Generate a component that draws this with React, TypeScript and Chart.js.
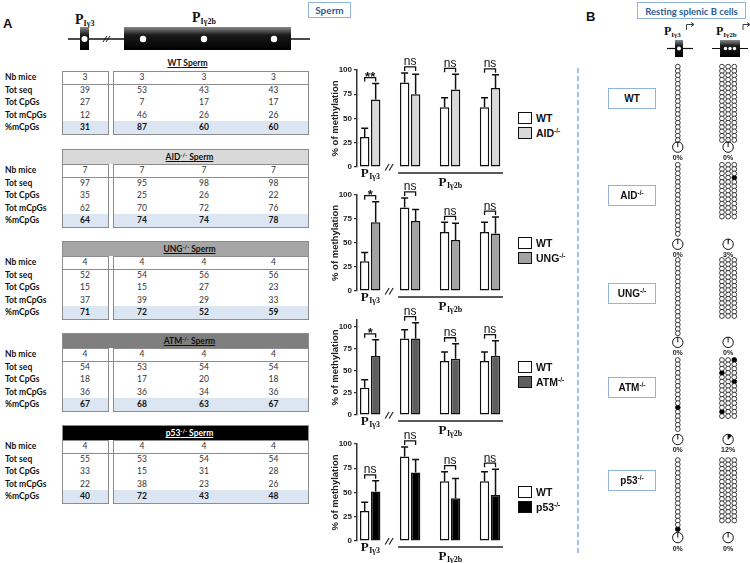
import React, { useEffect, useRef } from "react";
import { Chart, registerables } from "chart.js";

Chart.register(...registerables);

// ======================= DATA =======================
const rowLabels = ["Nb mice", "Tot seq", "Tot CpGs", "Tot mCpGs", "%mCpGs"];

const wtSperm = [
  [3, 3, 3, 3],
  [39, 53, 43, 43],
  [27, 7, 17, 17],
  [12, 46, 26, 26],
  [31, 87, 60, 60],
];
const aidSperm = [
  [7, 7, 7, 7],
  [97, 95, 98, 98],
  [35, 25, 26, 22],
  [62, 70, 72, 76],
  [64, 74, 74, 78],
];
const ungSperm = [
  [4, 4, 4, 4],
  [52, 54, 56, 56],
  [15, 15, 27, 23],
  [37, 39, 29, 33],
  [71, 72, 52, 59],
];
const atmSperm = [
  [4, 4, 4, 4],
  [54, 53, 54, 54],
  [18, 17, 20, 18],
  [36, 36, 34, 36],
  [67, 68, 63, 67],
];
const p53Sperm = [
  [4, 4, 4, 4],
  [55, 53, 54, 54],
  [33, 15, 31, 28],
  [22, 38, 23, 26],
  [40, 72, 43, 48],
];

// bar charts: index 0 = PIγ3, 1..3 = PIγ2b CpG sites
const sites = [0, 1, 2, 3];
const yTickValues = [0, 25, 50, 75, 100];

const wtMean = [31, 87, 61.5, 61.5];
const wtSd = [9, 10, 10, 10];

const aidMean = [69.5, 75, 80, 81.5];
const aidSd = [16.5, 20.5, 15.5, 13.5];
const aidSig = ["**", "ns", "ns", "ns"];

const ungMean = [71.5, 73, 53, 60];
const ungSd = [21.5, 12, 17.5, 17];
const ungSig = ["*", "ns", "ns", "ns"];

const atmMean = [67, 87, 64, 67.5];
const atmSd = [18.5, 18, 17, 17];
const atmSig = ["*", "ns", "ns", "ns"];

const p53Mean = [51, 70.5, 44, 47.5];
const p53Sd = [11, 13.5, 20.5, 26.5];
const p53Sig = ["ns", "ns", "ns", "ns"];

// Panel B: resting splenic B cells (lollipops)
const bGenotypes = ["WT", "AID", "UNG", "ATM", "p53"];
const g3Counts = [18, 17, 18, 17, 17];
const g2bCounts = [18, 13, 14, 14, 15];
const g3Methylated: number[][] = [[], [], [], [11], [16]]; // row indices
const g2bMethylated: number[][][] = [[], [[3, 2]], [], [[0, 2], [3, 0], [5, 2], [12, 0]], []]; // [row, col]
const g3Pct = [0, 0, 0, 0, 0];
const g2bPct = [0, 3, 0, 12, 0];

// ======================= STYLE / LAYOUT =======================
const SANS = "'Liberation Sans', Arial, sans-serif";
const SERIF = "'Liberation Serif', 'Times New Roman', serif";
const TFONT = "Lato, 'Open Sans', sans-serif";
const BLUE_TXT = "#2f5b96";
const BLUE_BORDER = "#8fb4de";

const CHART_LEFT = 330;
const CHART_W = 185;
const PAD_TOP = 22;
const PAD_BOTTOM = 28;

const TBL_L = 62;
const TBL_R = 309;
const colL = [62, 114, 170, 238];
const colR = [108, 170, 238, 309];
const ROW_H = 12.6;
const HEAD_H = 15;

const B_COL3_X = 679;
const B_COL2B_X = [725.5, 732, 738.5];
const B_TOP = [62, 162, 259, 361, 463];
const B_STEP = 4.4;
const B_PIE_Y = [144, 243, 343, 442, 542];
const B_LABEL_Y = [98, 195, 293, 387.5, 480];

// ======================= HELPERS =======================
function drawPLabel(ctx: CanvasRenderingContext2D, sub: string, cx: number, baseline: number) {
  ctx.font = `bold 13px ${SERIF}`;
  const wP = ctx.measureText("P").width;
  ctx.font = `bold 8px ${SERIF}`;
  const wS = ctx.measureText(sub).width;
  const x0 = cx - (wP + wS) / 2;
  ctx.textAlign = "left";
  ctx.textBaseline = "alphabetic";
  ctx.fillStyle = "#111";
  ctx.font = `bold 13px ${SERIF}`;
  ctx.fillText("P", x0, baseline);
  ctx.font = `bold 8px ${SERIF}`;
  ctx.fillText(sub, x0 + wP + 0.5, baseline + 2);
}

type ChartSpec = {
  areaTop: number;
  areaBottom: number;
  yMax: number;
  mean: number[];
  sd: number[];
  sig: string[];
  color: string;
  name: string;
};

function MethChart({ spec }: { spec: ChartSpec }) {
  const ref = useRef<HTMLCanvasElement>(null);
  const h = Math.round(spec.areaBottom - spec.areaTop + PAD_TOP + PAD_BOTTOM);
  useEffect(() => {
    const means = [wtMean, spec.mean];
    const sds = [wtSd, spec.sd];
    const annot = {
      id: "annot",
      afterDatasetsDraw(chart: any) {
        const ctx: CanvasRenderingContext2D = chart.ctx;
        const ys = chart.scales.y;
        const xs = chart.scales.x;
        ctx.save();
        ctx.strokeStyle = "#111";
        ctx.lineWidth = 1.5;
        const tops: number[][] = [[], []];
        [0, 1].forEach((d) => {
          const meta = chart.getDatasetMeta(d);
          meta.data.forEach((bar: any, i: number) => {
            const top = ys.getPixelForValue(means[d][i] + sds[d][i]);
            tops[d][i] = top;
            ctx.beginPath();
            ctx.moveTo(bar.x, bar.y);
            ctx.lineTo(bar.x, top);
            ctx.moveTo(bar.x - 3.5, top);
            ctx.lineTo(bar.x + 3.5, top);
            ctx.stroke();
          });
        });
        const m0 = chart.getDatasetMeta(0).data;
        const m1 = chart.getDatasetMeta(1).data;
        spec.sig.forEach((s, i) => {
          const x1 = m0[i].x;
          const x2 = m1[i].x;
          const by = Math.min(tops[0][i], tops[1][i]) - 6;
          ctx.lineWidth = 1.3;
          ctx.beginPath();
          ctx.moveTo(x1, by + 4);
          ctx.lineTo(x1, by);
          ctx.lineTo(x2, by);
          ctx.lineTo(x2, by + 4);
          ctx.stroke();
          ctx.fillStyle = "#111";
          ctx.textAlign = "center";
          ctx.textBaseline = "alphabetic";
          if (s === "ns") {
            ctx.font = `12px ${SANS}`;
            ctx.fillText(s, (x1 + x2) / 2, by - 1.5);
          } else {
            ctx.font = `bold 13px ${SANS}`;
            ctx.fillText(s, (x1 + x2) / 2, by + 3);
          }
        });
        // bottom annotations
        const y0 = ys.getPixelForValue(0);
        drawPLabel(ctx, "Iγ3", xs.getPixelForValue(sites[0]), y0 + 9.5);
        ctx.strokeStyle = "#222";
        ctx.lineWidth = 1.3;
        ctx.beginPath();
        ctx.moveTo(xs.getPixelForValue(sites[1]) - 12, y0 + 6);
        ctx.lineTo(chart.chartArea.right - 3, y0 + 6);
        ctx.stroke();
        drawPLabel(ctx, "Iγ2b", xs.getPixelForValue(sites[2]), y0 + 19);
        const bx = (xs.getPixelForValue(sites[0]) + xs.getPixelForValue(sites[1])) / 2;
        ctx.lineWidth = 1.2;
        ctx.beginPath();
        ctx.moveTo(bx - 5, y0 + 3.5);
        ctx.lineTo(bx - 1, y0 - 3);
        ctx.moveTo(bx - 1, y0 + 3.5);
        ctx.lineTo(bx + 3, y0 - 3);
        ctx.stroke();
        ctx.restore();
      },
    };
    const mk = (vals: number[]) => vals.map((v, i) => ({ x: sites[i], y: v }));
    const chart = new Chart(ref.current as HTMLCanvasElement, {
      type: "bar",
      data: {
        datasets: [
          {
            label: "WT",
            data: mk(wtMean),
            backgroundColor: "#ffffff",
            borderColor: "#111",
            borderWidth: 1.5,
            borderSkipped: false,
            categoryPercentage: 0.55,
            barPercentage: 0.86,
          } as any,
          {
            label: spec.name,
            data: mk(spec.mean),
            backgroundColor: spec.color,
            borderColor: "#111",
            borderWidth: 1.5,
            borderSkipped: false,
            categoryPercentage: 0.55,
            barPercentage: 0.86,
          } as any,
        ],
      },
      options: {
        animation: false,
        responsive: false,
        maintainAspectRatio: false,
        layout: { padding: { top: PAD_TOP, bottom: PAD_BOTTOM, left: 0, right: 9 } },
        plugins: { legend: { display: false }, tooltip: { enabled: false } },
        scales: {
          x: { type: "linear", min: -0.33, max: 3.4, display: false, offset: false },
          y: {
            type: "linear",
            min: 0,
            max: spec.yMax,
            afterBuildTicks: (s: any) => {
              s.ticks = yTickValues.map((v) => ({ value: v }));
            },
            afterFit: (s: any) => {
              s.width = 27;
            },
            ticks: {
              font: { size: 8, weight: "bold", family: SANS },
              color: "#222",
              padding: 2,
            },
            grid: { drawOnChartArea: false, drawTicks: true, tickLength: 3, color: "#333", lineWidth: 1.2 },
            border: { color: "#333", width: 1.5 },
            title: {
              display: true,
              text: "% of methylation",
              font: { size: 9.5, weight: "bold", family: SANS },
              color: "#222",
              padding: 0,
            },
          },
        },
      } as any,
      plugins: [annot],
    });
    return () => chart.destroy();
  }, []);
  const mid = (spec.areaTop + spec.areaBottom) / 2;
  return (
    <>
      <canvas
        ref={ref}
        width={CHART_W}
        height={h}
        style={{ position: "absolute", left: CHART_LEFT, top: spec.areaTop - PAD_TOP, width: CHART_W, height: h }}
      />
      <div style={{ position: "absolute", left: 518, top: mid - 6, width: 14, height: 12, border: "1.5px solid #111", background: "#fff", boxSizing: "border-box" }} />
      <div style={{ position: "absolute", left: 536, top: mid - 6, font: `bold 10.5px ${SANS}`, lineHeight: "12px", color: "#111", whiteSpace: "nowrap" }}>WT</div>
      <div style={{ position: "absolute", left: 518, top: mid + 9, width: 14, height: 12, border: "1.5px solid #111", background: spec.color, boxSizing: "border-box" }} />
      <div style={{ position: "absolute", left: 536, top: mid + 9, font: `bold 10.5px ${SANS}`, lineHeight: "12px", color: "#111", whiteSpace: "nowrap" }}>
        {spec.name}
        <span style={{ fontSize: 6.5, position: "relative", top: -4 }}>-/-</span>
      </div>
    </>
  );
}

function SpermTable(props: { top: number; values: number[][]; name: string; headerBg?: string; headerFg?: string }) {
  const { top, values, name, headerBg, headerFg } = props;
  const headH = headerBg ? HEAD_H : 0;
  const rowsTop = top + headH;
  const border = "1px solid #8c8c8c";
  const title = (
    <span style={{ textDecoration: "underline", fontWeight: 700 }}>
      {name}
      {name !== "WT" && <span style={{ fontSize: 5.5, position: "relative", top: -3 }}>-/-</span>} Sperm
    </span>
  );
  const els: any[] = [];
  if (headerBg) {
    els.push(
      <div key="h" style={{ position: "absolute", left: TBL_L, top, width: TBL_R - TBL_L, height: headH + 1, background: headerBg, border, boxSizing: "border-box", color: headerFg, font: `8.5px ${TFONT}`, lineHeight: `${headH - 1}px`, textAlign: "center", paddingLeft: 8 }}>
        {title}
      </div>
    );
  } else {
    els.push(
      <div key="h" style={{ position: "absolute", left: TBL_L, top: top - 14, width: TBL_R - TBL_L, height: 12, color: "#111", font: `8.5px ${TFONT}`, lineHeight: "12px", textAlign: "center", paddingLeft: 4, boxSizing: "border-box" }}>
        {title}
      </div>
    );
  }
  // blue highlighted last row
  els.push(<div key="bl" style={{ position: "absolute", left: TBL_L, top: rowsTop + ROW_H * 4, width: TBL_R - TBL_L, height: ROW_H, background: "#dce6f2" }} />);
  // outer border
  els.push(<div key="ob" style={{ position: "absolute", left: TBL_L, top: rowsTop, width: TBL_R - TBL_L, height: ROW_H * 5 + 1, border, boxSizing: "border-box" }} />);
  // double separator
  els.push(<div key="dbl" style={{ position: "absolute", left: colR[0], top: rowsTop, width: colL[1] - colR[0], height: ROW_H * 5 + 1, background: "#fff", borderLeft: border, borderRight: border, boxSizing: "border-box" }} />);
  // line under first row
  els.push(<div key="l1" style={{ position: "absolute", left: TBL_L, top: rowsTop + ROW_H, width: TBL_R - TBL_L, height: 0, borderTop: border }} />);
  rowLabels.forEach((lab, r) => {
    const yTop = rowsTop + r * ROW_H;
    els.push(
      <div key={"lab" + r} style={{ position: "absolute", left: 5, top: yTop, height: ROW_H, font: `bold 8.5px ${TFONT}`, lineHeight: `${ROW_H}px`, color: "#111", whiteSpace: "nowrap" }}>
        {lab}
      </div>
    );
    values[r].forEach((v, c) => {
      els.push(
        <div key={`v${r}-${c}`} style={{ position: "absolute", left: colL[c], width: colR[c] - colL[c], top: yTop, height: ROW_H, font: `${r === 4 ? "bold " : ""}8.5px ${TFONT}`, lineHeight: `${ROW_H}px`, textAlign: "center", color: r === 4 ? "#111" : "#333" }}>
          {v}
        </div>
      );
    });
  });
  return <>{els}</>;
}

function PanelB() {
  const ref = useRef<HTMLCanvasElement>(null);
  useEffect(() => {
    const open: { x: number; y: number }[] = [];
    const filled: { x: number; y: number }[] = [];
    bGenotypes.forEach((g, gi) => {
      for (let r = 0; r < g3Counts[gi]; r++) {
        const p = { x: B_COL3_X, y: B_TOP[gi] + r * B_STEP };
        (g3Methylated[gi].includes(r) ? filled : open).push(p);
      }
      for (let r = 0; r < g2bCounts[gi]; r++) {
        for (let c = 0; c < 3; c++) {
          const p = { x: B_COL2B_X[c], y: B_TOP[gi] + r * B_STEP };
          const m = g2bMethylated[gi].some(([rr, cc]) => rr === r && cc === c);
          (m ? filled : open).push(p);
        }
      }
    });
    const pies = {
      id: "pies",
      afterDatasetsDraw(chart: any) {
        const ctx: CanvasRenderingContext2D = chart.ctx;
        const xs = chart.scales.x;
        const ys = chart.scales.y;
        ctx.save();
        bGenotypes.forEach((g, gi) => {
          [
            [B_COL3_X, g3Pct[gi]],
            [B_COL2B_X[1], g2bPct[gi]],
          ].forEach(([px, pct]) => {
            const cx = xs.getPixelForValue(px);
            const cy = ys.getPixelForValue(B_PIE_Y[gi]);
            const r = 5.2;
            if (pct > 0) {
              ctx.fillStyle = "#000";
              ctx.beginPath();
              ctx.moveTo(cx, cy);
              ctx.arc(cx, cy, r, -Math.PI / 2, -Math.PI / 2 + (pct / 100) * Math.PI * 2);
              ctx.closePath();
              ctx.fill();
            }
            ctx.strokeStyle = "#111";
            ctx.lineWidth = 1;
            ctx.beginPath();
            ctx.arc(cx, cy, r, 0, Math.PI * 2);
            ctx.stroke();
            ctx.beginPath();
            ctx.moveTo(cx, cy);
            ctx.lineTo(cx, cy - r);
            ctx.stroke();
            ctx.fillStyle = "#222";
            ctx.font = `bold 7px ${SANS}`;
            ctx.textAlign = "center";
            ctx.textBaseline = "alphabetic";
            ctx.fillText(`${pct}%`, cx, cy + 13);
          });
        });
        ctx.restore();
      },
    };
    const chart = new Chart(ref.current as HTMLCanvasElement, {
      type: "scatter",
      data: {
        datasets: [
          { data: open, pointRadius: 2.4, pointBackgroundColor: "#fff", pointBorderColor: "#111", pointBorderWidth: 0.8, showLine: false },
          { data: filled, pointRadius: 2.4, pointBackgroundColor: "#000", pointBorderColor: "#000", pointBorderWidth: 0.8, showLine: false },
        ],
      },
      options: {
        animation: false,
        responsive: false,
        maintainAspectRatio: false,
        layout: { padding: 0 },
        plugins: { legend: { display: false }, tooltip: { enabled: false } },
        scales: {
          x: { type: "linear", min: 560, max: 750, display: false },
          y: { type: "linear", min: 55, max: 563, reverse: true, display: false },
        },
      } as any,
      plugins: [pies],
    });
    return () => chart.destroy();
  }, []);
  return <canvas ref={ref} width={190} height={508} style={{ position: "absolute", left: 560, top: 55, width: 190, height: 508 }} />;
}

const charts: ChartSpec[] = [
  { areaTop: 70, areaBottom: 166.7, yMax: 100, mean: aidMean, sd: aidSd, sig: aidSig, color: "#d9d9d9", name: "AID" },
  { areaTop: 195, areaBottom: 290.7, yMax: 100, mean: ungMean, sd: ungSd, sig: ungSig, color: "#a3a3a3", name: "UNG" },
  { areaTop: 319.7, areaBottom: 414.3, yMax: 108, mean: atmMean, sd: atmSd, sig: atmSig, color: "#5e5e5e", name: "ATM" },
  { areaTop: 444, areaBottom: 540.7, yMax: 100, mean: p53Mean, sd: p53Sd, sig: p53Sig, color: "#000000", name: "p53" },
];

export default function App() {
  return (
    <div style={{ position: "fixed", left: 0, top: 0, width: 750, height: 563, background: "#fff", overflow: "hidden", fontFamily: SANS }}>
      {/* Panel A gene diagram */}
      <svg width={750} height={60} style={{ position: "absolute", left: 0, top: 0 }}>
        <defs>
          <linearGradient id="gbox" x1="0" y1="0" x2="0" y2="1">
            <stop offset="0" stopColor="#8a8a8a" />
            <stop offset="0.35" stopColor="#1a1a1a" />
            <stop offset="1" stopColor="#000" />
          </linearGradient>
        </defs>
        <text x={3} y={28} fontFamily={SANS} fontWeight="bold" fontSize={13} fill="#111">A</text>
        <text x={75} y={24} fontFamily={SERIF} fontWeight="bold" fontSize={14} fill="#111">
          P<tspan fontSize={8} dy={2}>Iγ3</tspan>
        </text>
        <text x={192} y={22} fontFamily={SERIF} fontWeight="bold" fontSize={14} fill="#111">
          P<tspan fontSize={8} dy={2}>Iγ2b</tspan>
        </text>
        <line x1={68} y1={39} x2={310} y2={39} stroke="#111" strokeWidth={1.3} />
        <rect x={80} y={27} width={9} height={23} fill="url(#gbox)" />
        <circle cx={84.5} cy={39} r={3} fill="#fff" />
        <line x1={103} y1={42} x2={107} y2={36} stroke="#111" strokeWidth={1} />
        <line x1={106} y1={42} x2={110} y2={36} stroke="#111" strokeWidth={1} />
        <rect x={124} y={27} width={167} height={23} fill="url(#gbox)" />
        <circle cx={143} cy={39} r={3.2} fill="#fff" />
        <circle cx={204} cy={39} r={3.2} fill="#fff" />
        <circle cx={274} cy={39} r={3.2} fill="#fff" />
        <rect x={308.5} y={2.5} width={42} height={15} fill="#fff" stroke={BLUE_BORDER} strokeWidth={1} />
        <text x={329.5} y={14} textAnchor="middle" fontFamily={TFONT} fontWeight="bold" fontSize={10} fill={BLUE_TXT}>Sperm</text>

        {/* Panel B header */}
        <text x={586} y={21} fontFamily={SANS} fontWeight="bold" fontSize={13} fill="#111">B</text>
        <rect x={637.5} y={2.5} width={108} height={16} fill="#fff" stroke={BLUE_BORDER} strokeWidth={1} />
        <text x={691.5} y={14.5} textAnchor="middle" fontFamily={TFONT} fontWeight="bold" fontSize={9.5} fill={BLUE_TXT}>Resting splenic B cells</text>
        <text x={664} y={35} fontFamily={SERIF} fontWeight="bold" fontSize={12} fill="#111">
          P<tspan fontSize={7} dy={2}>Iγ3</tspan>
        </text>
        <path d="M686.5 30 V24.5 H693" stroke="#111" strokeWidth={0.8} fill="none" />
        <path d="M691 22.5 L694 24.5 L691 26.5" stroke="#111" strokeWidth={0.8} fill="none" />
        <text x={716} y={35} fontFamily={SERIF} fontWeight="bold" fontSize={12} fill="#111">
          P<tspan fontSize={7} dy={2}>Iγ2b</tspan>
        </text>
        <path d="M743 30 V24.5 H749" stroke="#111" strokeWidth={0.8} fill="none" />
        <path d="M747 22.5 L750 24.5 L747 26.5" stroke="#111" strokeWidth={0.8} fill="none" />
        <line x1={667} y1={48.5} x2={693} y2={48.5} stroke="#111" strokeWidth={1.2} />
        <rect x={675} y={40} width={8} height={17} fill="url(#gbox)" />
        <circle cx={679} cy={48.5} r={2} fill="#fff" />
        <line x1={712} y1={48.5} x2={748} y2={48.5} stroke="#111" strokeWidth={1.2} />
        <rect x={720} y={40} width={20} height={17} fill="url(#gbox)" />
        <circle cx={725.5} cy={48.5} r={1.7} fill="#fff" />
        <circle cx={730} cy={48.5} r={1.7} fill="#fff" />
        <circle cx={734.5} cy={48.5} r={1.7} fill="#fff" />
      </svg>

      <svg width={20} height={563} style={{ position: "absolute", left: 570, top: 0 }}>
        <line x1={8} y1={68} x2={8} y2={556} stroke={BLUE_BORDER} strokeWidth={1.6} strokeDasharray="5 3" />
      </svg>

      <SpermTable top={71} values={wtSperm} name="WT" />
      <SpermTable top={149} values={aidSperm} name="AID" headerBg="#d9d9d9" headerFg="#111" />
      <SpermTable top={241} values={ungSperm} name="UNG" headerBg="#a6a6a6" headerFg="#111" />
      <SpermTable top={333} values={atmSperm} name="ATM" headerBg="#7f7f7f" headerFg="#111" />
      <SpermTable top={425} values={p53Sperm} name="p53" headerBg="#000000" headerFg="#fff" />

      {charts.map((c, i) => (
        <MethChart key={i} spec={c} />
      ))}

      {bGenotypes.map((g, gi) => (
        <div key={g} style={{ position: "absolute", left: 608, top: B_LABEL_Y[gi] - 10.5, width: 48, height: 21, border: `1px solid ${BLUE_BORDER}`, boxSizing: "border-box", textAlign: "center", font: `bold 10px ${SANS}`, lineHeight: "19px", color: "#111" }}>
          {g}
          {g !== "WT" && <span style={{ fontSize: 6.5, position: "relative", top: -4 }}>-/-</span>}
        </div>
      ))}

      <PanelB />
    </div>
  );
}
